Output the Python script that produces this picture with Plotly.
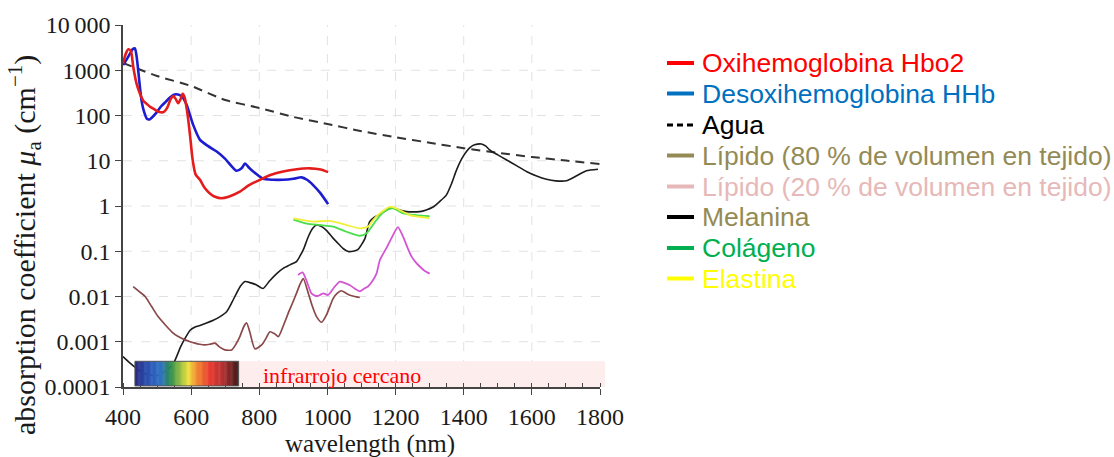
import numpy as np
import plotly.graph_objects as go

# ---------------- absorption spectra (wavelength nm, mu_a in cm^-1) ----------------
water_nm = [400, 500, 600, 700, 800, 900, 1000, 1100, 1200, 1300, 1400, 1500, 1600, 1700, 1800]
water_mua = [1445, 746, 449, 220, 147, 93, 65, 45, 33, 25, 19, 15, 12.1, 10.1, 8.5]

hbo2_nm = [400, 408, 416, 423, 430, 440, 450, 460, 470, 480, 490, 500, 510, 520, 530, 540, 548,
           555, 562, 569, 575, 581, 587, 592, 597, 604, 613, 626, 640, 655, 670, 689, 710, 743,
           770, 802, 835, 870, 910, 948, 980, 1002]
hbo2_mua = [1400, 2300, 2900, 2700, 1200, 500, 300, 210, 180, 155, 140, 125, 118, 120, 150, 230, 270,
            230, 186, 230, 300, 250, 140, 75, 35, 11, 5.0, 3.8, 2.5, 1.9, 1.6, 1.48, 1.6, 2.07,
            2.9, 3.8, 4.9, 5.8, 6.5, 6.8, 6.4, 5.6]

hhb_nm = [400, 410, 420, 428, 435, 440, 445, 450, 455, 462, 470, 478, 488, 500, 512, 525, 538, 548,
          556, 565, 575, 587, 597, 606, 626, 650, 675, 700, 733, 748, 758, 770, 782, 811, 840, 870,
          900, 924, 940, 958, 980, 1002]
hhb_mua = [1300, 1700, 2300, 2900, 3050, 2000, 940, 400, 200, 120, 85, 82, 95, 120, 160, 200, 250, 285,
           295, 285, 250, 170, 100, 62, 29, 21, 16, 11, 6.0, 6.8, 8.7, 7.0, 5.8, 4.0, 3.8, 3.8,
           4.0, 4.3, 3.8, 2.9, 1.9, 1.1]

melanin_nm = [400, 420, 445, 470, 500, 530, 548, 570, 585, 597, 610, 626, 645, 665, 685, 704, 720,
              733, 745, 758, 775, 792, 811, 830, 851, 870, 890, 909, 920, 929, 945, 958, 968, 983,
              997, 1015, 1031, 1046, 1061, 1075, 1090, 1100, 1110, 1124, 1136, 1149, 1166, 1183,
              1197, 1215, 1232, 1250, 1271, 1290, 1310, 1329, 1349, 1365, 1379, 1394, 1408, 1420,
              1432, 1452, 1465, 1476, 1500, 1525, 1555, 1584, 1614, 1643, 1670, 1701, 1730, 1760, 1794]
melanin_mua = [0.00047, 0.00034, 0.00024, 0.00019, 0.00018, 0.00024, 0.00033, 0.0008, 0.0013, 0.0018,
               0.0021, 0.0023, 0.0026, 0.003, 0.0036, 0.0046, 0.0075, 0.0117, 0.017, 0.0214, 0.02,
               0.018, 0.015, 0.022, 0.032, 0.042, 0.05, 0.059, 0.08, 0.107, 0.22, 0.33, 0.38, 0.35,
               0.29, 0.2, 0.15, 0.115, 0.099, 0.1, 0.11, 0.14, 0.19, 0.45, 0.55, 0.63, 0.75, 0.89,
               0.89, 0.8, 0.75, 0.74, 0.75, 0.82, 0.95, 1.25, 1.74, 3.2, 6.3, 11, 16, 20,
               22.5, 23.5, 21, 17.4, 13.5, 10.5, 7.8, 5.8, 4.6, 3.9, 3.6, 3.6, 4.6, 6.0, 6.5]

lipid80_nm = [430, 447, 465, 484, 503, 523, 543, 562, 582, 597, 611, 625, 640, 655, 670, 685, 699, 719,
              732, 743, 755, 763, 772, 787, 807, 820, 831, 845, 856, 870, 885, 897, 909, 920, 929,
              944, 956, 968, 983, 997, 1017, 1030, 1041, 1055, 1066, 1080, 1095]
lipid80_mua = [0.0166, 0.013, 0.01, 0.006, 0.0036, 0.0024, 0.00166, 0.0013, 0.0011, 0.001, 0.00093,
               0.00088, 0.00085, 0.00088, 0.00093, 0.00075, 0.00066, 0.00066, 0.0009, 0.0013, 0.0022,
               0.0026, 0.00166, 0.0007, 0.00085, 0.0012, 0.00166, 0.0015, 0.0013, 0.0022, 0.0043,
               0.007, 0.0117, 0.019, 0.025, 0.0117, 0.006, 0.0036, 0.0027, 0.0039, 0.0091, 0.012,
               0.0134, 0.0118, 0.0107, 0.01, 0.0095]

lipid20_nm = [914, 927, 938, 953, 963, 973, 980, 988, 1002, 1020, 1036, 1050, 1066, 1080, 1095, 1108,
              1119, 1132, 1144, 1154, 1173, 1193, 1207, 1222, 1235, 1247, 1260, 1271, 1285, 1300]
lipid20_mua = [0.03, 0.034, 0.023, 0.0117, 0.0105, 0.0103, 0.011, 0.0117, 0.0108, 0.016, 0.0214, 0.02,
               0.0178, 0.015, 0.013, 0.015, 0.0166, 0.022, 0.032, 0.064, 0.117, 0.23, 0.34, 0.21,
               0.12, 0.076, 0.056, 0.046, 0.037, 0.032]

collagen_nm = [900, 939, 978, 1017, 1056, 1095, 1115, 1130, 1144, 1160, 1173, 1193, 1222, 1261, 1300]
collagen_mua = [0.5, 0.41, 0.38, 0.35, 0.27, 0.22, 0.25, 0.35, 0.49, 0.68, 0.81, 0.89, 0.69, 0.63, 0.6]

elastin_nm = [900, 958, 1007, 1056, 1095, 1119, 1135, 1154, 1183, 1202, 1241, 1300]
elastin_mua = [0.53, 0.45, 0.47, 0.38, 0.32, 0.35, 0.5, 0.69, 0.96, 0.89, 0.63, 0.54]

# axis ticks
x_ticks = [400, 600, 800, 1000, 1200, 1400, 1600, 1800]
y_ticks = [1e-4, 1e-3, 1e-2, 1e-1, 1, 10, 100, 1000, 10000]
y_ticktext = ["0.0001", "0.001", "0.01", "0.1", "1", "10", "100", "1000", "10\u2009000"]

# visible-spectrum strip and near-infrared band
spectrum_nm = [435, 470, 509, 538, 565, 592, 616, 655, 694, 738]
spectrum_rgb = [(40, 40, 127), (42, 79, 176), (48, 112, 200), (42, 138, 80), (138, 184, 64),
                (240, 224, 64), (240, 138, 48), (232, 58, 48), (176, 48, 48), (64, 24, 24)]
spectrum_top_mua = 3.7e-4
nir_nm = (740, 1815)

# legend entries: label, text colour, line colour, dashed
legend_items = [
    ("Oxihemoglobina Hbo2", "#ff0000", "#ff0000", False),
    ("Desoxihemoglobina HHb", "#0070c0", "#0070c0", False),
    ("Agua", "#000000", "#000000", True),
    ("Lípido (80 % de volumen en tejido)", "#948a54", "#948a54", False),
    ("Lípido (20 % de volumen en tejido)", "#e6b9b8", "#e6b9b8", False),
    ("Melanina", "#948a54", "#000000", False),
    ("Colágeno", "#00b050", "#00b050", False),
    ("Elastina", "#ffff00", "#ffff00", False),
]

# ---------------- geometry ----------------
W, H = 1114, 457
ML, MR, MT, MB = 123, 514, 25, 70
PW, PH = W - ML - MR, H - MT - MB
X0, X1 = 400, 1800
LOG0, LOG1 = -4, 4


def px_to_paper_x(p):
    return (p - ML) / PW


def px_to_paper_y(p):
    return (H - MB - p) / PH


def nm_to_paper(nm):
    return (nm - X0) / (X1 - X0)


def mua_to_paper(v):
    return (np.log10(v) - LOG0) / (LOG1 - LOG0)


SERIF = "Liberation Serif, Times New Roman, serif"
SANS = "Liberation Sans, Arial, sans-serif"
INK = "#1a1a1a"

fig = go.Figure()

series = [
    (water_nm, water_mua, "#333333", 2.0, "9px,6px"),
    (melanin_nm, melanin_mua, "#1c1c1c", 1.6, "solid"),
    (lipid80_nm, lipid80_mua, "#8a4848", 1.7, "solid"),
    (lipid20_nm, lipid20_mua, "#d455d4", 1.8, "solid"),
    (collagen_nm, collagen_mua, "#4ade4a", 1.8, "solid"),
    (elastin_nm, elastin_mua, "#f0f038", 1.8, "solid"),
    (hhb_nm, hhb_mua, "#1c1cd0", 2.6, "solid"),
    (hbo2_nm, hbo2_mua, "#e41c1c", 2.6, "solid"),
]
for xs, ys, col, w, dash in series:
    fig.add_trace(go.Scatter(
        x=xs, y=ys, mode="lines",
        line=dict(color=col, width=w, dash=dash, shape="spline", smoothing=0.6),
        showlegend=False, hoverinfo="skip",
    ))

shapes = []

# dashed grid
for v in y_ticks[1:-1]:
    yp = mua_to_paper(v)
    shapes.append(dict(type="line", xref="paper", yref="paper", x0=0, x1=1, y0=yp, y1=yp,
                       line=dict(color="#e2e2e2", width=1, dash="dash"), layer="below"))
for t in x_ticks[1:-1]:
    xp = nm_to_paper(t)
    shapes.append(dict(type="line", xref="paper", yref="paper", x0=xp, x1=xp, y0=0, y1=1,
                       line=dict(color="#e2e2e2", width=1, dash="dash"), layer="below"))

# near-infrared band
shapes.append(dict(type="rect", xref="paper", yref="paper",
                   x0=nm_to_paper(nir_nm[0]), x1=nm_to_paper(nir_nm[1]),
                   y0=0, y1=mua_to_paper(spectrum_top_mua),
                   fillcolor="#fdeded", line=dict(width=0), layer="below"))

# visible spectrum gradient strip
n_slices = 120
edges = np.linspace(spectrum_nm[0], spectrum_nm[-1], n_slices + 1)
stops = np.array(spectrum_nm, dtype=float)
rgb = np.array(spectrum_rgb, dtype=float)
ytop = mua_to_paper(spectrum_top_mua)
for a, b in zip(edges[:-1], edges[1:]):
    mid = 0.5 * (a + b)
    c = [int(round(np.interp(mid, stops, rgb[:, k]))) for k in range(3)]
    shapes.append(dict(type="rect", xref="paper", yref="paper",
                       x0=nm_to_paper(a), x1=nm_to_paper(b) + 0.001, y0=0.003, y1=ytop,
                       fillcolor=f"rgb({c[0]},{c[1]},{c[2]})", line=dict(width=0), layer="above"))
shapes.append(dict(type="rect", xref="paper", yref="paper",
                   x0=nm_to_paper(spectrum_nm[0]), x1=nm_to_paper(spectrum_nm[-1]) + 0.001,
                   y0=0.003, y1=ytop, line=dict(color="#555555", width=1), layer="above"))

annotations = [
    dict(text="infrarrojo cercano", xref="paper", yref="paper",
         x=nm_to_paper(805), y=px_to_paper_y(375), xanchor="left", yanchor="middle",
         showarrow=False, font=dict(family=SERIF, size=22, color="#ff0000")),
    # axis titles
    dict(text="wavelength (nm)", xref="paper", yref="paper",
         x=px_to_paper_x(370), y=px_to_paper_y(444), xanchor="center", yanchor="middle",
         showarrow=False, font=dict(family=SERIF, size=25, color=INK)),
    dict(text="absorption coefficient <i>μ</i><sub>a</sub> (cm<sup>−1</sup>)", xref="paper", yref="paper",
         x=px_to_paper_x(24), y=px_to_paper_y(245), xanchor="center", yanchor="middle",
         textangle=-90, showarrow=False, font=dict(family=SERIF, size=30, color=INK)),
]

# legend drawn at the right of the plot
row_y = [63, 93.5, 125, 155.5, 186.5, 217, 248, 278.5]
for (label, tcol, lcol, dashed), yp in zip(legend_items, row_y):
    ypp = px_to_paper_y(yp)
    shapes.append(dict(type="line", xref="paper", yref="paper",
                       x0=px_to_paper_x(667), x1=px_to_paper_x(694), y0=ypp, y1=ypp,
                       line=dict(color=lcol, width=3 if dashed else 4,
                                 dash="6px,4px" if dashed else "solid")))
    annotations.append(dict(text=label, xref="paper", yref="paper",
                            x=px_to_paper_x(700), y=ypp, xanchor="left", yanchor="middle",
                            showarrow=False, font=dict(family=SANS, size=26.5, color=tcol)))

fig.update_layout(
    width=W, height=H,
    margin=dict(l=ML, r=MR, t=MT, b=MB, pad=0),
    paper_bgcolor="white", plot_bgcolor="white",
    shapes=shapes, annotations=annotations,
    showlegend=False,
    xaxis=dict(
        range=[X0, X1], tickvals=x_ticks, ticktext=[str(t) for t in x_ticks],
        showgrid=False, zeroline=False,
        showline=True, linecolor="#444444", linewidth=1.5,
        ticks="outside", ticklen=6, tickwidth=1.2, tickcolor="#444444",
        ticklabelstandoff=1,
        minor=dict(ticks="inside", dtick=50, ticklen=4, tickwidth=1, tickcolor="#444444", showgrid=False),
        tickfont=dict(family=SERIF, size=24, color=INK),
    ),
    yaxis=dict(
        type="log", range=[LOG0, LOG1], tickvals=y_ticks, ticktext=y_ticktext,
        showgrid=False, zeroline=False,
        showline=True, linecolor="#444444", linewidth=1.5,
        ticks="outside", ticklen=6, tickwidth=1.2, tickcolor="#444444",
        tickfont=dict(family=SERIF, size=24, color=INK),
    ),
)

fig.write_html("out.html")
